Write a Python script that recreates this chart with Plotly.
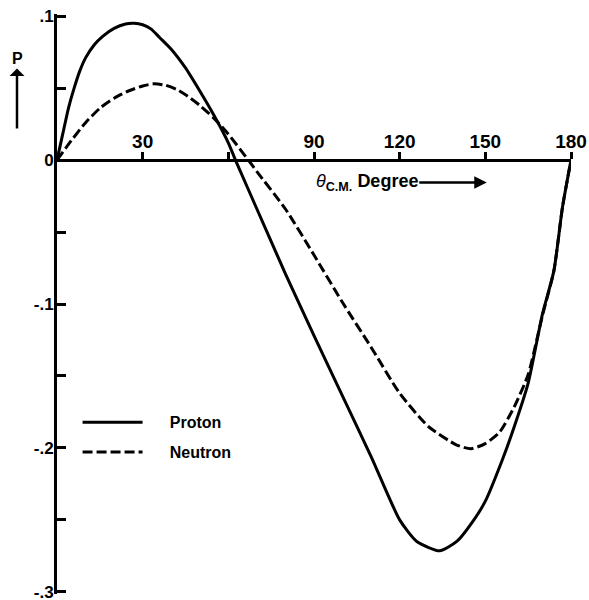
import plotly.graph_objects as go

# ---- data ----
proton_theta = [0, 2, 4, 6, 8, 10, 13, 16, 20, 24, 27, 30, 33, 36, 40, 45, 50, 55, 60, 62.5, 70,
                80, 90, 100, 110, 120, 126, 134, 140, 146, 150, 156, 160, 165, 170, 174, 177,
                180]
proton_p = [0, 0.018, 0.036, 0.050, 0.062, 0.071, 0.080, 0.086, 0.0915, 0.0945, 0.095, 0.094,
            0.091, 0.085, 0.077, 0.064, 0.048, 0.031, 0.012, 0.0, -0.034,
            -0.079, -0.122, -0.164, -0.206, -0.250, -0.265, -0.2715, -0.265, -0.250, -0.237,
            -0.208, -0.186, -0.155, -0.107, -0.077, -0.033, 0]

neutron_theta = [0, 5, 10, 15, 20, 25, 30, 34, 38, 42, 46, 50, 55, 60, 67, 70, 80, 90, 100, 110,
                 120, 130, 140, 145, 150, 155, 160, 165, 170, 174, 177, 180]
neutron_p = [0, 0.0135, 0.026, 0.036, 0.043, 0.048, 0.0515, 0.053, 0.052, 0.049, 0.044, 0.038,
             0.029, 0.018, 0.0, -0.008, -0.034, -0.066, -0.099, -0.130,
             -0.162, -0.185, -0.198, -0.2005, -0.197, -0.189, -0.172, -0.149, -0.108, -0.077,
             -0.033, 0]

x_tickvals = [30, 60, 90, 120, 150, 180]
x_ticktext = ["30", "", "90", "120", "150", "180"]
y_tickvals = [0.1, 0.05, 0, -0.05, -0.1, -0.15, -0.2, -0.25, -0.3]
y_ticktext = [".1", "", "0", "", "-.1", "", "-.2", "", "-.3"]
x_range = [0, 180]
y_range = [-0.3015, 0.1015]

FONT = "Liberation Sans"
PAD = "&nbsp;" * 5

# pixel geometry: 0.1 at y=15.7, -0.3 at y=591.7
PX_PER_UNIT = 1440.0
top_m = 15.7 - (y_range[1] - 0.1) * PX_PER_UNIT
bot_m = 600 - (591.7 + (-0.3 - y_range[0]) * PX_PER_UNIT)
plot_h = 600 - top_m - bot_m
plot_w = 514

fig = go.Figure()
fig.add_trace(go.Scatter(x=proton_theta, y=proton_p, mode="lines", name=PAD + "Proton",
                         line=dict(color="black", width=3, shape="spline", smoothing=0.6),
                         legendgroup="p"))
fig.add_trace(go.Scatter(x=neutron_theta, y=neutron_p, mode="lines", name=PAD + "Neutron",
                         line=dict(color="black", width=3, dash="10px,4px", shape="spline",
                                   smoothing=0.6),
                         legendgroup="n"))

xpos = (0 - y_range[0]) / (y_range[1] - y_range[0])


def py(pix):
    return 1 - (pix - top_m) / plot_h


def px(pix):
    return (pix - 57) / plot_w


fig.update_layout(
    width=589, height=600,
    margin=dict(l=57, r=18, t=top_m, b=bot_m, autoexpand=False),
    paper_bgcolor="white", plot_bgcolor="white",
    font=dict(family=FONT, color="black"),
    showlegend=True,
    legend=dict(x=0.04, y=py(405), xanchor="left", yanchor="top",
                font=dict(size=16, family=FONT, weight="bold"),
                bgcolor="rgba(0,0,0,0)", tracegroupgap=6, itemwidth=60),
    xaxis=dict(range=x_range, side="top", anchor="free", position=xpos, automargin=False,
               showline=True, linewidth=3, linecolor="black",
               ticks="outside", ticklen=7, tickwidth=2.5, tickcolor="black",
               tickvals=x_tickvals, ticktext=x_ticktext, ticklabelstandoff=-4,
               ticklabeloverflow="allow",
               tickfont=dict(size=19, family=FONT, weight="bold"),
               showgrid=False, zeroline=False),
    yaxis=dict(range=y_range, automargin=False, showline=True, linewidth=3, linecolor="black",
               ticks="inside", ticklen=9, tickwidth=3, tickcolor="black",
               tickvals=y_tickvals, ticktext=y_ticktext, ticklabelstandoff=-3,
               ticklabeloverflow="allow",
               tickfont=dict(size=17, family=FONT, weight="bold"),
               showgrid=False, zeroline=False),
)

# P with upward arrow (arrowhead drawn next to the text)
fig.add_annotation(x=px(17), y=py(128), xref="paper", yref="paper", text="<b>P</b>",
                   showarrow=True, arrowside="start", arrowhead=2, arrowsize=1,
                   arrowwidth=2.5, arrowcolor="black", ax=0, ay=-70, standoff=0,
                   startstandoff=0, font=dict(size=16, family=FONT))

# axis title with arrow pointing to larger angles
fig.add_annotation(x=150.5, y=-0.0155, xref="x", yref="y",
                   text="<i>θ</i><sub><b>C.M.</b></sub> <b>Degree</b>",
                   showarrow=True, arrowhead=2, arrowsize=1, arrowwidth=2.5,
                   arrowcolor="black", ax=-120, ay=0, font=dict(size=18, family=FONT))

fig.write_html("out.html")
